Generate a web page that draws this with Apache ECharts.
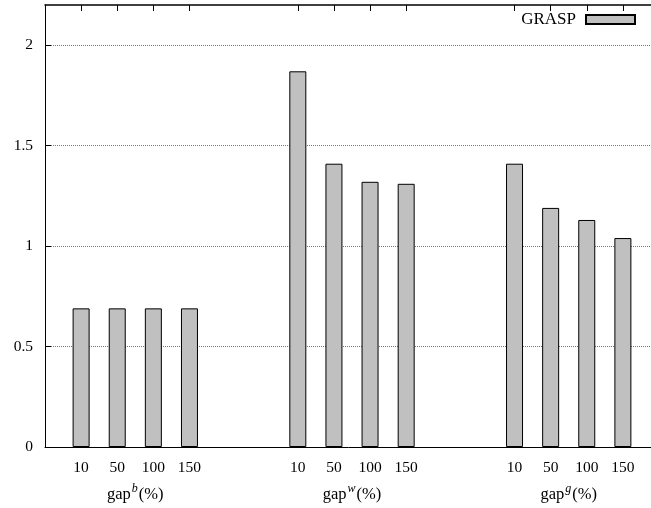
<!DOCTYPE html>
<html>
<head>
<meta charset="utf-8">
<script src="https://cdn.jsdelivr.net/npm/echarts@6/dist/echarts.min.js"></script>
<style>
html, body { margin: 0; padding: 0; background: #fff; }
#main { width: 651px; height: 508px; }
</style>
</head>
<body>
<div id="main"></div>
<script>
// gap levels under each group, and the superscript of each group label
var gapLabels = ['10', '50', '100', '150'];
var groupNames = ['b', 'w', 'g'];
// GRASP values per group
var graspB = [0.69, 0.69, 0.69, 0.69];
var graspW = [1.87, 1.41, 1.32, 1.31];
var graspG = [1.41, 1.19, 1.13, 1.04];
var yTicks = [0, 0.5, 1, 1.5, 2];

var FONT = 'Liberation Serif';

// lay the groups out on one category axis, with empty slots between them
var groups = [graspB, graspW, graspG];
var cats = [''];
var values = [null];
var groupCenters = [];
groups.forEach(function (g, gi) {
  if (gi > 0) {
    cats.push('', '');
    values.push(null, null);
  }
  var start = cats.length;
  g.forEach(function (v, i) {
    cats.push(gapLabels[i]);
    values.push(v);
  });
  groupCenters.push((start + cats.length - 1) / 2);
});
cats.push('');
values.push(null);

var chart = echarts.init(document.getElementById('main'));
chart.setOption({
  animation: false,
  backgroundColor: '#fff',
  grid: { left: 45, top: 5, width: 614, height: 442, outerBoundsMode: 'none', containLabel: false },
  legend: {
    data: ['GRASP'],
    right: 15,
    top: 11,
    padding: 0,
    align: 'right',
    icon: 'rect',
    itemWidth: 49,
    itemHeight: 9,
    textStyle: { fontFamily: FONT, fontSize: 17, color: '#000', padding: [0, 5, 0, 0] }
  },
  xAxis: [
    {
      type: 'category',
      data: cats,
      boundaryGap: false,
      position: 'bottom',
      axisLine: { lineStyle: { color: '#000', width: 1 } },
      axisTick: { show: false },
      axisLabel: { interval: 0, margin: 13, color: '#000', fontFamily: FONT, fontSize: 15.5 },
      splitLine: { show: false }
    },
    {
      type: 'category',
      data: cats,
      boundaryGap: false,
      position: 'top',
      axisLine: { lineStyle: { color: '#000', width: 1.5 } },
      axisTick: {
        inside: true,
        length: 6,
        interval: function (i, v) { return v !== ''; },
        lineStyle: { color: '#000' }
      },
      axisLabel: { show: false },
      splitLine: { show: false }
    },
    {
      type: 'value',
      min: 0,
      max: cats.length - 1,
      position: 'bottom',
      offset: 25,
      axisLine: { show: false },
      axisTick: { show: false },
      splitLine: { show: false },
      axisLabel: {
        customValues: groupCenters,
        margin: 11,
        formatter: function (v) {
          var k = groupCenters.indexOf(v);
          return '{base|gap}{sup|' + groupNames[k] + '}{base|(%)}';
        },
        rich: {
          base: { fontFamily: FONT, fontSize: 16.5, color: '#000', lineHeight: 20, verticalAlign: 'bottom' },
          sup: { fontFamily: FONT, fontSize: 12, fontStyle: 'italic', color: '#000', lineHeight: 10, verticalAlign: 'top', padding: [0, 1, 0, 1] }
        }
      }
    }
  ],
  yAxis: {
    type: 'value',
    min: 0,
    max: 2.2,
    interval: 0.5,
    axisLine: { show: true, lineStyle: { color: '#000', width: 1 } },
    axisTick: { show: true, inside: true, length: 6, customValues: yTicks, lineStyle: { color: '#000' } },
    axisLabel: { customValues: yTicks, margin: 12, color: '#000', fontFamily: FONT, fontSize: 15.5 },
    splitLine: { show: true, lineStyle: { type: 'dotted', color: '#777', width: 1 } }
  },
  series: [
    {
      name: 'GRASP',
      type: 'bar',
      xAxisIndex: 0,
      barWidth: 17,
      data: values,
      itemStyle: { color: '#c0c0c0', borderColor: '#000', borderWidth: 1 }
    }
  ]
});
</script>
</body>
</html>
